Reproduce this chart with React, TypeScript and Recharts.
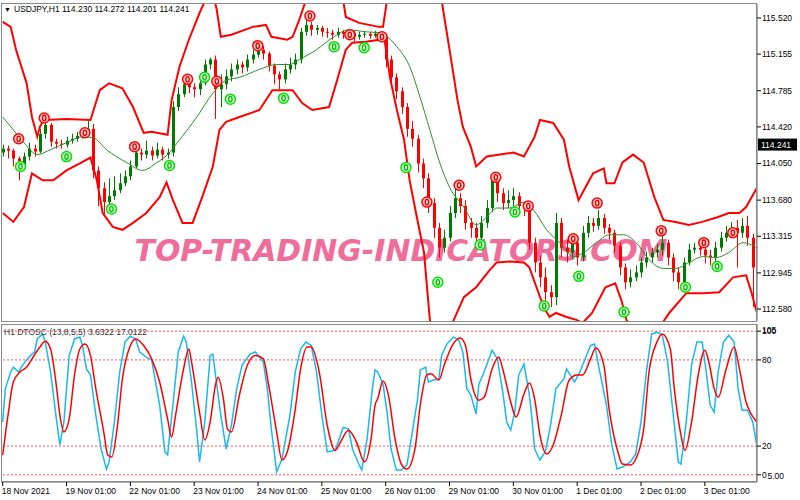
import React from 'react';
import {
  ComposedChart,
  Bar,
  Line,
  Scatter,
  XAxis,
  YAxis,
  ReferenceLine,
  Customized,
} from 'recharts';

const FONT = '"Liberation Sans", Arial, sans-serif';

// ---------- time axis (hour index from 18 Nov 2021) ----------
const timeTicks = [0, 24, 48, 72, 96, 120, 144, 168, 192, 216, 240, 264];
const timeLabels = [
  '18 Nov 2021', '19 Nov 01:00', '22 Nov 01:00', '23 Nov 01:00', '24 Nov 01:00', '25 Nov 01:00',
  '26 Nov 01:00', '29 Nov 01:00', '30 Nov 01:00', '1 Dec 01:00', '2 Dec 01:00', '3 Dec 01:00',
];
const X_DOMAIN: [number, number] = [-0.64, 283.6];

// ---------- price panel ----------
const priceTicks = [112.58, 112.945, 113.315, 113.68, 114.05, 114.42, 114.785, 115.155, 115.52];
const PRICE_DOMAIN: [number, number] = [112.459, 115.661];
const lastPrice = 114.241;

const firstOpen = 114.16;
const closes = [
  114.20, 114.18, 114.10, 114.04, 114.12, 114.20, 114.17, 114.35, 114.44, 114.27,
  114.25, 114.24, 114.28, 114.30, 114.33, 114.36, 114.40, 113.98, 113.80, 113.66,
  113.72, 113.78, 113.85, 113.92, 114.02, 114.16, 114.14, 114.18, 114.13, 114.19,
  114.14, 114.16, 114.62, 114.75, 114.85, 114.82, 114.80, 114.86, 115.05, 115.10,
  114.80, 114.85, 114.93, 115.00, 115.05, 115.02, 115.10, 115.15, 115.20, 115.16,
  115.04, 114.95, 114.90, 115.00, 115.05, 115.10, 115.38, 115.45, 115.40, 115.42,
  115.38, 115.37, 115.35, 115.38, 115.36, 115.37, 115.33, 115.35, 115.36, 115.34,
  115.36, 115.33, 115.10, 114.92, 114.78, 114.62, 114.40, 114.30, 114.05, 113.90,
  113.65, 113.40, 113.20, 113.30, 113.55, 113.70, 113.62, 113.45, 113.40, 113.30,
  113.45, 113.60, 113.88, 113.75, 113.65, 113.68, 113.72, 113.62, 113.60, 113.25,
  113.05, 112.90, 112.75, 112.70, 113.45, 113.20, 113.15, 113.25, 113.10, 113.35,
  113.45, 113.42, 113.50, 113.40, 113.35, 113.22, 113.00, 112.85, 112.90, 112.95,
  113.05, 113.10, 113.15, 113.18, 113.25, 113.10, 112.95, 112.85, 113.05, 113.18,
  113.20, 113.18, 113.12, 113.10, 113.20, 113.30, 113.35, 113.40, 113.35, 113.42,
  113.30, 113.00,
];
const highs = [
  114.24, 114.23, 114.20, 114.12, 114.16, 114.26, 114.24, 114.40, 114.50, 114.46,
  114.30, 114.29, 114.32, 114.35, 114.37, 114.40, 114.48, 114.45, 114.02, 113.86,
  113.90, 113.92, 113.95, 113.98, 114.08, 114.22, 114.20, 114.28, 114.22, 114.26,
  114.22, 114.20, 114.68, 114.82, 114.92, 114.90, 114.86, 114.92, 115.10, 115.12,
  115.14, 114.95, 115.00, 115.06, 115.10, 115.08, 115.15, 115.20, 115.26, 115.24,
  115.18, 115.06, 114.98, 115.06, 115.12, 115.16, 115.42, 115.52, 115.48, 115.45,
  115.44, 115.42, 115.40, 115.42, 115.40, 115.40, 115.39, 115.38, 115.39, 115.38,
  115.39, 115.38, 115.36, 115.14, 114.96, 114.82, 114.66, 114.48, 114.34, 114.10,
  113.95, 113.70, 113.45, 113.38, 113.62, 113.80, 113.75, 113.68, 113.50, 113.45,
  113.52, 113.68, 113.92, 113.90, 113.80, 113.78, 113.80, 113.76, 113.66, 113.64,
  113.30, 113.12, 113.00, 112.82, 113.55, 113.50, 113.28, 113.32, 113.30, 113.42,
  113.52, 113.50, 113.58, 113.54, 113.44, 113.38, 113.25, 113.04, 112.98, 113.02,
  113.10, 113.16, 113.20, 113.24, 113.34, 113.28, 113.14, 113.00, 113.10, 113.24,
  113.25, 113.24, 113.22, 113.18, 113.26, 113.36, 113.42, 113.46, 113.48, 113.50,
  113.52, 113.34,
];
const lows = [
  114.12, 114.10, 114.02, 113.88, 114.00, 114.08, 114.12, 114.15, 114.30, 114.22,
  114.20, 114.20, 114.21, 114.25, 114.27, 114.30, 114.33, 113.90, 113.62, 113.52,
  113.60, 113.68, 113.75, 113.82, 113.88, 114.00, 114.08, 114.10, 114.08, 114.10,
  114.08, 114.10, 114.12, 114.58, 114.72, 114.76, 114.72, 114.74, 114.84, 115.00,
  114.50, 114.62, 114.80, 114.88, 114.95, 114.96, 114.98, 115.06, 115.12, 115.10,
  114.98, 114.85, 114.80, 114.86, 114.96, 115.00, 115.06, 115.34, 115.34, 115.35,
  115.33, 115.32, 115.30, 115.32, 115.31, 115.33, 115.28, 115.30, 115.32, 115.31,
  115.32, 115.30, 115.02, 114.85, 114.70, 114.55, 114.32, 114.22, 113.96, 113.80,
  113.55, 113.30, 113.10, 113.15, 113.26, 113.50, 113.55, 113.38, 113.30, 113.22,
  113.25, 113.40, 113.56, 113.66, 113.58, 113.60, 113.62, 113.55, 113.52, 113.18,
  112.95, 112.80, 112.62, 112.60, 112.62, 113.10, 113.05, 113.08, 113.02, 113.06,
  113.30, 113.36, 113.38, 113.34, 113.28, 113.15, 112.92, 112.78, 112.80, 112.86,
  112.90, 113.00, 113.05, 113.10, 113.12, 113.02, 112.86, 112.78, 112.82, 113.02,
  113.14, 113.12, 113.04, 113.02, 113.06, 113.16, 113.26, 113.30, 113.00, 113.30,
  113.22, 112.60,
];

const upperBand: [number, number][] = [
  [0, 115.48], [3, 115.43], [5, 115.2], [9, 114.86], [11, 114.52], [13, 114.32], [14, 114.42],
  [15, 114.47], [16, 114.49], [24, 114.5], [33, 114.49], [36.5, 114.79], [40, 114.86], [45, 114.81],
  [49, 114.62], [53, 114.36], [56, 114.37], [62, 114.34], [63.5, 114.69], [66.5, 115.03], [70, 115.3],
  [74, 115.57], [77, 115.75], [79, 115.78], [80.5, 115.6], [82, 115.33], [86, 115.35], [94, 115.43],
  [99, 115.45], [101, 115.33], [107, 115.3], [109, 115.33], [111.5, 115.5], [114, 115.7], [121, 115.9],
  [128, 115.7], [129, 115.53], [134, 115.47], [141.5, 115.43], [143, 115.43], [144.5, 115.7],
  [155, 116.05], [165, 115.7], [168, 115.2], [171, 114.69], [173, 114.42], [176, 114.22], [178, 114.02],
  [182, 114.12], [187, 114.14], [192, 114.16], [196, 114.12], [200, 114.32], [202, 114.49], [207, 114.46],
  [211, 114.29], [213, 114.02], [216.5, 113.68], [218.5, 113.78], [222, 113.95], [226, 114.0], [227, 113.85],
  [230, 113.85], [233, 114.06], [237, 114.14], [241, 114.06], [245, 113.71], [248.4, 113.48], [253, 113.46],
  [258, 113.43], [263, 113.46], [269, 113.51], [273, 113.55], [277, 113.55], [279.5, 113.61], [283.5, 113.8],
];
const lowerBand: [number, number][] = [
  [0, 113.55], [4, 113.46], [8, 113.61], [11, 113.95], [15, 113.88], [19, 113.88], [24, 113.98],
  [29, 114.05], [33, 114.11], [35.4, 113.88], [37.6, 113.55], [41.4, 113.41], [45, 113.38], [49, 113.45],
  [54, 113.55], [59, 113.71], [61.6, 113.86], [64, 113.68], [67.6, 113.45], [71.4, 113.45], [75, 113.71],
  [79, 114.02], [81.5, 114.39], [84, 114.47], [89, 114.52], [96.5, 114.59], [101.4, 114.79], [109, 114.79],
  [112.6, 114.66], [116.4, 114.59], [122.7, 114.62], [125.4, 114.86], [129, 115.2], [131.4, 115.27],
  [136.6, 115.28], [141.5, 115.3], [143.4, 115.33], [145.6, 114.92], [148.2, 114.59], [150.9, 114.29],
  [153, 113.88], [155.7, 113.51], [158.4, 113.15], [160.6, 112.47], [164, 112.2], [169.6, 112.47],
  [173.4, 112.7], [178, 112.8], [183, 112.97], [185.7, 113.05], [190.6, 113.06], [196, 113.05], [198, 113.0],
  [200.7, 112.8], [203.4, 112.6], [205.6, 112.5], [208, 112.54], [212, 112.5], [215.7, 112.47], [218, 112.44],
  [221.6, 112.54], [226.6, 112.8], [230.3, 112.84], [232.6, 112.67], [234.5, 112.47], [242, 112.2],
  [250.6, 112.54], [257, 112.74], [263.4, 112.74], [269.4, 112.75], [274.6, 112.9], [279.5, 112.92],
  [281.5, 112.75], [283.5, 112.55],
];
const middleBand: [number, number][] = [
  [0, 114.52], [4, 114.39], [8, 114.26], [13, 114.14], [18, 114.19], [24, 114.26], [30, 114.32],
  [34, 114.31], [39, 114.19], [46.6, 114.06], [52.6, 113.98], [58, 114.06], [62, 114.14], [66.5, 114.29],
  [73, 114.52], [79, 114.76], [84, 114.89], [89, 114.92], [96.5, 115.0], [103, 115.05], [107.7, 115.05],
  [111.5, 115.1], [118, 115.2], [124, 115.32], [130, 115.4], [136.6, 115.38], [141.5, 115.37], [143.4, 115.35],
  [148.2, 115.23], [153, 115.03], [156.9, 114.72], [160.6, 114.39], [164.4, 114.05], [168, 113.81],
  [173.4, 113.61], [178, 113.43], [182, 113.51], [185.7, 113.6], [190.6, 113.6], [196, 113.66], [199.6, 113.58],
  [204.5, 113.38], [209.4, 113.25], [214.6, 113.11], [218.4, 113.15], [223.2, 113.25], [228, 113.33],
  [233.4, 113.33], [238.2, 113.25], [243, 113.08], [248.4, 112.99], [253.2, 112.99], [258, 113.05],
  [263.4, 113.11], [268.2, 113.1], [273, 113.15], [278.4, 113.25], [283.5, 113.2],
];

const redMarks: [number, number][] = [
  [6, 114.3], [15.6, 114.51], [30.9, 114.36], [49.6, 114.22], [69.5, 114.9], [80.5, 114.88], [95.9, 115.24],
  [115.5, 115.54], [130.5, 115.35], [142.6, 115.33], [159.5, 113.66], [171.6, 113.83], [185.4, 113.91],
  [197.6, 113.62], [214.5, 113.29], [223.5, 113.65], [247.6, 113.37], [263.6, 113.25], [274.5, 113.35],
];
const greenMarks: [number, number][] = [
  [6.7, 114.02], [24, 114.12], [40.9, 113.59], [62.7, 114.03], [75.9, 114.92], [85.6, 114.7], [105.6, 114.71],
  [124.6, 115.23], [135.9, 115.22], [151.6, 114.01], [163.6, 112.85], [179.5, 113.23], [192.6, 113.56],
  [203.6, 112.61], [216.6, 112.91], [233.6, 112.55], [256.7, 112.8], [268.6, 113.01],
];

// ---------- oscillator panel ----------
const oscTicks = [0, 20, 80, 100];
const oscLevels = [0, 20, 80, 100];
const OSC_DOMAIN: [number, number] = [-5, 105];

const oscFast: [number, number][] = [
  [0, 36.8], [1, 60], [3, 71.6], [4, 75], [6, 71.6], [7, 75], [9, 80], [11, 84], [12, 85.5], [13, 94.6],
  [15, 98], [16, 92.5], [18, 71.6], [20, 41.6], [21.5, 20.8], [23, 36.8], [25, 83], [27, 94.6], [29, 96],
  [30, 90], [31.5, 73.7], [33, 69.5], [35, 41.6], [37, 18], [39, 4], [40, 9], [42, 36.8], [44, 71.6],
  [46, 92.5], [48, 96.5], [50, 94.6], [51.5, 85.5], [54, 82], [56, 80], [59, 48.6], [61, 16], [62, 13.8],
  [64, 48.6], [66, 85.5], [68, 96.5], [69, 92.5], [71, 64.6], [73, 29.8], [74, 9], [76, 36.8], [78, 83],
  [79, 84], [80, 69.5], [82, 41.6], [84, 18], [86, 34.7], [88, 60], [90, 76.4], [93, 84], [95, 85.5],
  [98, 78.5], [99.5, 60], [101, 32], [103, 2], [105, 11], [108, 41.6], [110, 71.6], [112, 87.6], [114, 92.5],
  [116, 90], [118, 71.6], [120, 41.6], [122, 16], [125, 17], [128, 33], [130, 32], [131.5, 18], [134, 7],
  [135, 3.3], [137, 25], [139, 60], [140, 73], [141, 71.6], [143, 63], [144.5, 43.7], [146, 18], [148, 3.3],
  [150, 3.3], [152, 7], [154, 29.8], [156, 52.7], [157, 73], [159, 75], [160, 64.6], [162, 66], [164, 66.7],
  [165, 83], [167, 91], [169.5, 96], [171.5, 93.6], [173, 85.5], [174.5, 60], [176, 55.6], [178, 42.3],
  [179, 63], [181, 71.6], [184, 86.7], [186, 80.7], [188, 57.7], [189.5, 36.8], [191, 31], [192.5, 43.7],
  [194, 69.5], [196, 77], [198, 55.6], [199, 38.9], [200, 18], [202, 10.3], [204, 16], [206, 34.7], [208, 60],
  [211, 66.7], [212, 73.7], [215, 64.6], [217, 71.6], [219, 80.7], [221, 90], [222.5, 91], [224, 76.4],
  [227, 48.6], [229, 20.8], [231, 4], [233, 5.4], [236, 9], [238, 14.5], [240, 36.8], [242, 71.6], [244, 98],
  [246, 99.3], [248, 97.2], [250, 78.5], [252, 43.7], [254, 9], [255, 7.5], [257, 36.8], [259, 76.4],
  [261, 92.5], [263, 92.5], [264.5, 71.6], [266, 48.6], [267.5, 43.7], [269, 71.6], [271, 92.5], [273, 97.2],
  [275, 92.5], [276.5, 60], [278, 45], [280, 45], [282, 36.8], [283.5, 20.8],
];
const oscSlow: [number, number][] = [
  [0, 13.8], [2, 41.6], [4, 64.6], [6.5, 71.6], [9, 75], [11, 80.7], [14, 89], [16, 93], [18, 87.6],
  [20, 64.6], [21.5, 41.6], [23, 29.8], [25, 38.9], [27, 69.5], [29, 87.6], [31, 91], [33, 83], [35, 60],
  [38, 29.8], [39.5, 13.8], [41, 12.4], [43, 32], [45, 66.7], [48, 90], [50, 94.6], [53, 90], [56, 80.7],
  [59, 64.6], [62, 38.9], [63.5, 26.3], [65, 41.6], [68, 73.7], [70, 87.6], [71, 78.5], [74, 43.7], [76, 24.2],
  [78, 36.8], [80, 62.5], [81, 68], [83, 52.7], [84.5, 32], [86, 29.8], [89, 55.6], [92, 76.4], [95, 83],
  [98, 80.7], [100, 62.5], [103, 29.8], [105, 10.3], [107, 16], [110, 45.8], [112, 73.7], [114.5, 89],
  [116, 89], [119, 71.6], [122, 34.7], [125, 17], [127, 22.8], [130, 31], [133, 22.8], [136, 9], [138.5, 25],
  [140, 48.6], [141, 53], [143, 65.3], [145, 55.6], [147.5, 25], [150, 7], [152, 4], [155, 18], [157, 48.6],
  [159.5, 69.5], [161, 70.4], [164, 66], [166, 76.4], [169, 90], [172, 95.3], [174, 90], [176, 66.7],
  [179, 52], [181, 54], [184, 73.7], [186.5, 82], [188, 73.7], [191, 50.7], [193, 40.2], [196, 56.3],
  [198, 64], [200, 52.7], [202, 27.7], [204.5, 14.5], [207, 20.8], [210, 41.6], [213, 66], [216, 69.5],
  [218, 69.5], [221, 80.7], [223, 88.3], [226, 76.4], [228, 45.8], [231, 18], [233, 7.5], [236, 6.8],
  [238, 11], [241, 32], [243, 71.6], [246, 92.5], [248, 98], [251, 87.6], [252.5, 60], [255, 27.7],
  [256.5, 17], [259, 36.8], [261.5, 69.5], [264, 86.7], [265.5, 78.5], [267.5, 60], [269, 54], [272, 73.7],
  [275, 89], [277, 73.7], [279.5, 50.7], [281, 43.7], [283.5, 36.8],
];

// ---------- build tables for the library ----------
const candles = closes.map((c, i) => ({
  t: i * 2,
  o: i === 0 ? firstOpen : closes[i - 1],
  c,
  hi: highs[i],
  lo: lows[i],
}));
const toPts = (arr: [number, number][]) => arr.map(([t, p]) => ({ t, p }));
const upperData = toPts(upperBand);
const lowerData = toPts(lowerBand);
const middleData = toPts(middleBand);
const redData = toPts(redMarks);
const greenData = toPts(greenMarks);
const fastData = oscFast.map(([t, v]) => ({ t, v }));
const slowData = oscSlow.map(([t, v]) => ({ t, v }));

// ---------- shapes ----------
const Candle = (props: any) => {
  const { x, y, width, height, payload } = props;
  if (!payload || x == null || y == null) return null;
  const top = Math.min(y, y + height);
  const h = Math.abs(height);
  const { o, c, hi, lo } = payload;
  const ppu = hi - lo > 0 ? h / (hi - lo) : 0;
  const bTop = top + (hi - Math.max(o, c)) * ppu;
  const bBot = top + (hi - Math.min(o, c)) * ppu;
  const color = c >= o ? '#007a00' : '#ff0000';
  const cx = Math.round(x + width / 2) + 0.5;
  return (
    <g>
      <line x1={cx} x2={cx} y1={top} y2={top + h} stroke={color} strokeWidth={1} />
      <rect x={cx - 1.5} y={bTop} width={3} height={Math.max(1, bBot - bTop)} fill={color} />
    </g>
  );
};

// circled-zero signal symbol, drawn as a ring with an oval "0" glyph shape
const makeMarker = (ring: string, fill: string, digit: string) => (props: any) => {
  const { cx, cy } = props;
  if (cx == null || cy == null) return null;
  return (
    <g>
      <circle cx={cx} cy={cy} r={5} fill={fill} stroke={ring} strokeWidth={1.5} />
      <ellipse cx={cx} cy={cy} rx={1.7} ry={2.7} fill="none" stroke={digit} strokeWidth={1.3} />
    </g>
  );
};
const RedMarker = makeMarker('#ff0000', '#ffd0d0', '#e00000');
const GreenMarker = makeMarker('#00e000', '#d8ffd8', '#00c000');

const PriceTick = (props: any) => {
  const { x, y, payload } = props;
  return (
    <text x={x} y={y + 3} fontSize={8.5} fontFamily={FONT} fill="#000" textAnchor="start">
      {Number(payload.value).toFixed(3)}
    </text>
  );
};

const OscTick = (props: any) => {
  const { x, y, payload } = props;
  const v = payload.value;
  return (
    <g>
      <text x={x} y={y + 3} fontSize={8.5} fontFamily={FONT} fill="#000" textAnchor="start">
        {String(v)}
      </text>
      {v === 100 && (
        <text x={x} y={y + 2} fontSize={8.5} fontFamily={FONT} fill="#000" textAnchor="start">
          105
        </text>
      )}
      {v === 0 && (
        <text x={x + 5.5} y={y + 4} fontSize={8.5} fontFamily={FONT} fill="#000" textAnchor="start">
          5.00
        </text>
      )}
    </g>
  );
};

const TimeTick = (props: any) => {
  const { x, y, index } = props;
  return (
    <g>
      <line x1={x} x2={x} y1={y} y2={y + 4} stroke="#000" strokeWidth={1} />
      <text x={x - 1} y={y + 12} fontSize={8.5} fontFamily={FONT} fill="#000" textAnchor="start">
        {timeLabels[index]}
      </text>
    </g>
  );
};

const TopOverlay = () => (
  <g>
    <text
      x={401}
      y={261}
      textAnchor="middle"
      fontSize={31}
      fontWeight="bold"
      fontStyle="italic"
      fontFamily='"DejaVu Sans", sans-serif'
      fill="#f06c9b"
      textLength={533}
      lengthAdjust="spacingAndGlyphs"
    >
      TOP-TRADING-INDICATORS.COM
    </text>
  </g>
);

const TopHeader = () => (
  <g>
    <text x={4} y={12} fontSize={7} fontFamily={FONT} fill="#000">▼</text>
    <text x={14} y={12} fontSize={8.5} fontFamily={FONT} fill="#000">
      USDJPY,H1  114.230 114.272 114.201 114.241
    </text>
  </g>
);

const OscHeader = () => (
  <text x={4} y={335} fontSize={8.5} fontFamily={FONT} fill="#333">
    H1 DTOSC (13,8,5,5) 3.6322 17.0122
  </text>
);

const PriceBox = (props: any) => {
  const vb = props.viewBox || {};
  const x = (vb.x || 0) + (vb.width || 0) + 1;
  const y = vb.y || 0;
  return (
    <g>
      <rect x={x} y={y - 6} width={39} height={12} fill="#000" />
      <text x={x + 3} y={y + 3} fontSize={8.5} fontFamily={FONT} fill="#fff">
        {lastPrice.toFixed(3)}
      </text>
    </g>
  );
};

export default function App() {
  return (
    <div style={{ position: 'absolute', left: 0, top: 0, width: 800, height: 500, background: '#fff', overflow: 'hidden' }}>
      <div style={{ position: 'absolute', left: 0, top: 0 }}>
        <ComposedChart width={800} height={324} data={candles} margin={{ top: 4, right: 0, left: 1, bottom: 3 }}>
          <XAxis dataKey="t" type="number" domain={X_DOMAIN} allowDataOverflow hide />
          <YAxis
            orientation="right"
            type="number"
            domain={PRICE_DOMAIN}
            allowDataOverflow
            ticks={priceTicks}
            width={43}
            tickSize={4}
            tickMargin={1}
            tick={<PriceTick />}
            axisLine={{ stroke: '#606060' }}
            tickLine={{ stroke: '#000' }}
          />
          <Customized component={TopOverlay} />
          <Line data={upperData} dataKey="p" type="linear" stroke="#ff0000" strokeWidth={2} dot={false} isAnimationActive={false} />
          <Line data={lowerData} dataKey="p" type="linear" stroke="#ff0000" strokeWidth={2} dot={false} isAnimationActive={false} />
          <Line data={middleData} dataKey="p" type="monotone" stroke="#2e8b2e" strokeWidth={1} dot={false} isAnimationActive={false} />
          <Bar dataKey={(d: any) => [d.lo, d.hi]} barSize={3} shape={<Candle />} isAnimationActive={false} />
          <Scatter data={redData} dataKey="p" shape={<RedMarker />} isAnimationActive={false} />
          <Scatter data={greenData} dataKey="p" shape={<GreenMarker />} isAnimationActive={false} />
          <ReferenceLine y={lastPrice} stroke="none" label={<PriceBox />} />
          <Customized component={TopHeader} />
        </ComposedChart>
      </div>
      <div style={{ position: 'absolute', left: 0, top: 324 }}>
        <ComposedChart width={800} height={176} margin={{ top: 0, right: 0, left: 1, bottom: 0 }}>
          <XAxis
            dataKey="t"
            type="number"
            domain={X_DOMAIN}
            allowDataOverflow
            ticks={timeTicks}
            height={18}
            tickSize={0}
            tickMargin={0}
            tick={<TimeTick />}
            axisLine={{ stroke: '#606060' }}
            interval={0}
          />
          <YAxis
            orientation="right"
            type="number"
            domain={OSC_DOMAIN}
            allowDataOverflow
            ticks={oscTicks}
            width={43}
            tickSize={4}
            tickMargin={1}
            tick={<OscTick />}
            axisLine={{ stroke: '#606060' }}
            tickLine={{ stroke: '#000' }}
            interval={0}
          />
          {oscLevels.map((lv) => (
            <ReferenceLine key={lv} y={lv} stroke="#ff5050" strokeDasharray="2 2" strokeWidth={1} />
          ))}
          <Line data={fastData} dataKey="v" type="linear" stroke="#19b8f0" strokeWidth={1.5} dot={false} isAnimationActive={false} />
          <Line data={slowData} dataKey="v" type="monotone" stroke="#ff0000" strokeWidth={1.5} dot={false} isAnimationActive={false} />
        </ComposedChart>
      </div>
      <div style={{ position: 'absolute', left: 0, top: 0 }}>
        <svg width={800} height={500} style={{ position: 'absolute', left: 0, top: 0, pointerEvents: 'none' }}>
          <rect x={1.5} y={3.5} width={755} height={318} fill="none" stroke="#8a8a8a" />
          <rect x={1.5} y={324.5} width={755} height={157} fill="none" stroke="#8a8a8a" />
          <OscHeader />
        </svg>
      </div>
    </div>
  );
}
